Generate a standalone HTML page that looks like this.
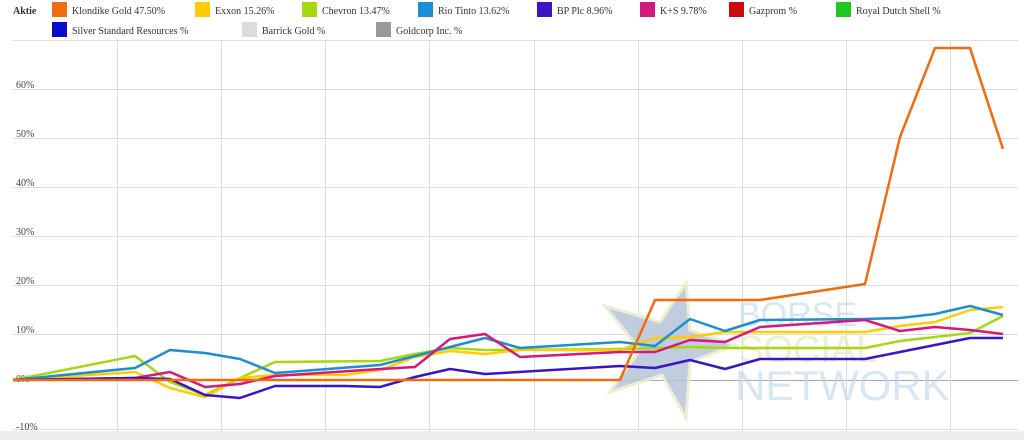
<!DOCTYPE html><html><head><style>body{margin:0;background:#fff;font-family:"Liberation Serif",serif}</style></head><body>
<svg width="1024" height="440" xmlns="http://www.w3.org/2000/svg" font-family="Liberation Serif,serif" font-size="10" fill="#333">
<g font-size="10">
<text x="13" y="14" font-weight="bold">Aktie</text>
<rect x="52" y="2" width="15" height="15" fill="#f26b0f"/><text x="72" y="14">Klondike Gold  47.50%</text>
<rect x="195" y="2" width="15" height="15" fill="#ffcc00"/><text x="215" y="14">Exxon  15.26%</text>
<rect x="302" y="2" width="15" height="15" fill="#a6d810"/><text x="322" y="14">Chevron  13.47%</text>
<rect x="418" y="2" width="15" height="15" fill="#1b8fd1"/><text x="438" y="14">Rio Tinto  13.62%</text>
<rect x="537" y="2" width="15" height="15" fill="#3a14c8"/><text x="557" y="14">BP Plc  8.96%</text>
<rect x="640" y="2" width="15" height="15" fill="#d4197d"/><text x="660" y="14">K+S  9.78%</text>
<rect x="729" y="2" width="15" height="15" fill="#cc0a0a"/><text x="749" y="14">Gazprom  %</text>
<rect x="836" y="2" width="15" height="15" fill="#1fc81f"/><text x="856" y="14">Royal Dutch Shell  %</text>
<rect x="52" y="22" width="15" height="15" fill="#0a0ac8"/><text x="72" y="34">Silver Standard Resources  %</text>
<rect x="242" y="22" width="15" height="15" fill="#dcdcdc"/><text x="262" y="34">Barrick Gold  %</text>
<rect x="376" y="22" width="15" height="15" fill="#999"/><text x="396" y="34">Goldcorp Inc.  %</text>
</g>
<g stroke="#ddd" stroke-width="1">
<line x1="13" y1="40.5" x2="1018" y2="40.5"/>
<line x1="13" y1="89.5" x2="1018" y2="89.5"/><line x1="13" y1="138.5" x2="1018" y2="138.5"/><line x1="13" y1="187.5" x2="1018" y2="187.5"/><line x1="13" y1="236.5" x2="1018" y2="236.5"/><line x1="13" y1="285.5" x2="1018" y2="285.5"/><line x1="13" y1="334.5" x2="1018" y2="334.5"/>
<line x1="13" y1="380.5" x2="1018" y2="380.5" stroke="#aaa"/><line x1="13" y1="429.5" x2="1018" y2="429.5"/>
<line x1="117.5" y1="40" x2="117.5" y2="432"/><line x1="221.5" y1="40" x2="221.5" y2="432"/><line x1="325.5" y1="40" x2="325.5" y2="432"/><line x1="429.5" y1="40" x2="429.5" y2="432"/><line x1="534.5" y1="40" x2="534.5" y2="432"/><line x1="638.5" y1="40" x2="638.5" y2="432"/><line x1="742.5" y1="40" x2="742.5" y2="432"/><line x1="846.5" y1="40" x2="846.5" y2="432"/><line x1="950.5" y1="40" x2="950.5" y2="432"/>
</g>
<rect x="0" y="431" width="1024" height="9" fill="#eee"/>
<g font-size="10" fill="#444"><text x="16" y="88">60%</text><text x="16" y="137">50%</text><text x="16" y="186">40%</text><text x="16" y="235">30%</text><text x="16" y="284">20%</text><text x="16" y="333">10%</text><text x="16" y="382">0%</text><text x="16" y="430">-10%</text></g>
<polygon points="686,283 690,330 735,345 690,362 686,418 662,375 610,392 640,350 605,306 660,322" fill="#b8c4da" stroke="#e8ecc8" stroke-width="3" opacity="0.85"/>
<g font-family="Liberation Sans,sans-serif" fill="#bcd8ec" opacity="0.6">
<text x="738" y="326" font-size="34">BÖRSE</text>
<text x="738" y="362" font-size="38" fill="#dde9b0">SOCIAL</text>
<text x="735" y="400" font-size="42">NETWORK</text></g>
<g fill="none" stroke-width="2.5" stroke-linejoin="round">
<polyline stroke="#a6d810" points="13,380 135,356 170,382 205,395 240,378 275,362 380,361 415,354 450,348 485,350 620,349 655,348 690,347 725,348 760,348 865,348 900,341 935,337 970,333 1003,316"/>
<polyline stroke="#ffcc00" points="13,380 135,372 170,388 205,397 240,378 275,375 345,375 380,370 415,357 450,351 485,354 520,350 620,350 655,338 690,337 725,332 760,332 865,332 900,326 935,322 970,310 1003,307"/>
<polyline stroke="#1b8fd1" points="13,380 135,368 170,350 205,353 240,359 275,373 380,365 415,356 450,347 485,338 520,348 620,342 655,346 690,319 725,331 760,320 865,319 900,318 935,314 970,306 1003,315"/>
<polyline stroke="#d4197d" points="13,380 135,378 170,372 205,387 240,384 275,376 380,369 415,367 450,339 485,334 520,357 620,352 655,352 690,340 725,342 760,327 865,320 900,331 935,327 970,330 1003,334"/>
<polyline stroke="#3a14c8" points="13,380 135,378 170,379 205,395 240,398 275,386 345,386 380,387 415,377 450,369 485,374 620,366 655,368 690,360 725,369 760,359 865,359 900,352 935,345 970,338 1003,338"/>
<polyline stroke="#f26b0f" points="13,380 620,380 655,300 760,300 865,284 900,137 935,48 970,48 1003,149"/>
</g>
</svg></body></html>
